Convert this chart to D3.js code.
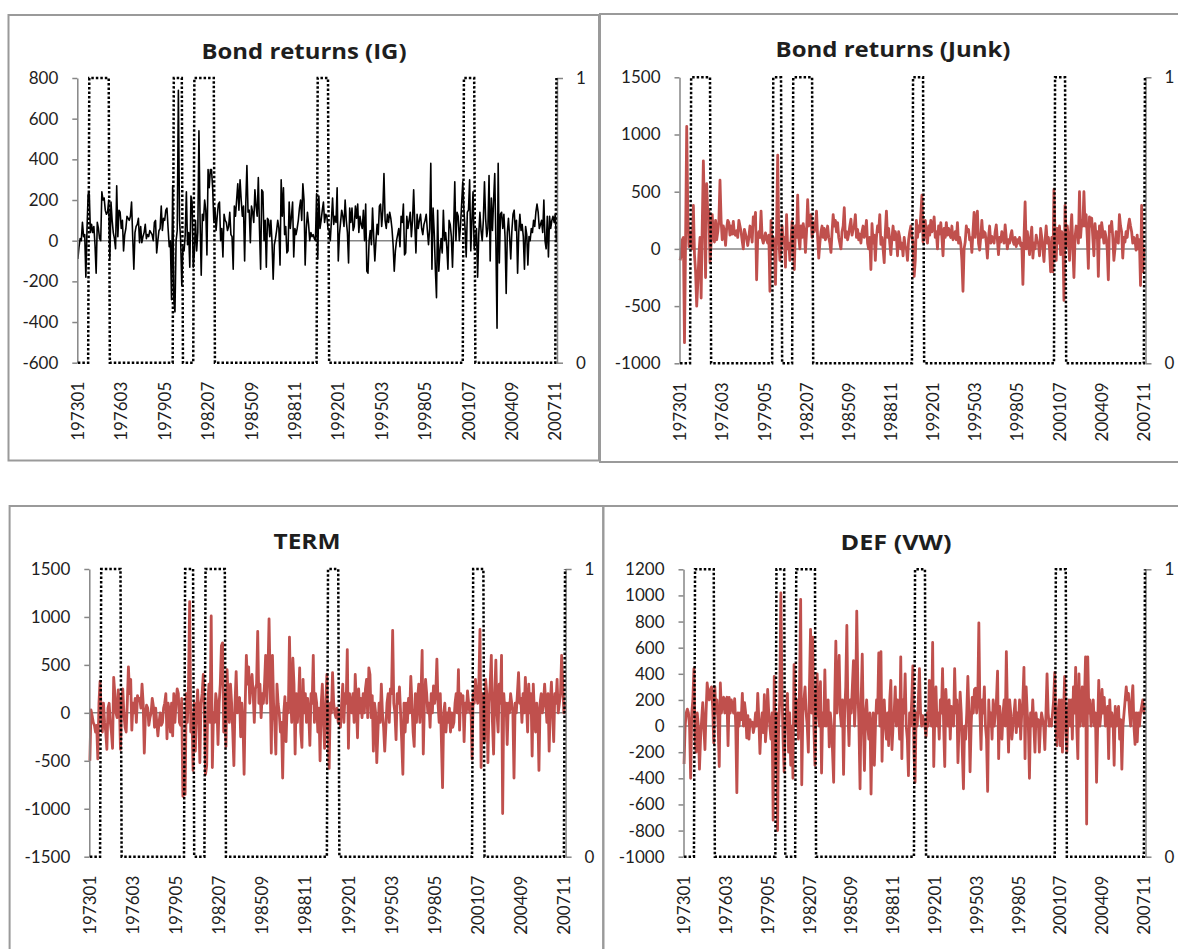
<!DOCTYPE html>
<html><head><meta charset="utf-8">
<script src="https://cdn.jsdelivr.net/npm/d3@7"></script>
<style>
body{margin:0;background:#fff}
svg{display:block}
text{font-family:Lato,"Open Sans",sans-serif;fill:#1e1e1e}
</style>
</head><body>
<svg id="chart" width="1178" height="949"></svg>
<script>
// ---- data ----
const xTickLabels = ["197301","197603","197905","198207","198509","198811","199201","199503","199805","200107","200409","200711"];
const recessionPeriods = [["197311","197504"],["198001","198008"],["198107","198212"],["199007","199104"],["200103","200112"],["200712","200712"]];

const bondIG = [
-90,-30,10,0,90,20,30,-180,60,230,230,40,80,40,70,-20,-160,90,60,10,0,240,200,210,150,130,140,200,-90,190,100,40,10,-40,270,20,150,140,
60,100,-50,30,60,120,110,100,120,190,20,-140,40,70,80,110,-10,70,-10,20,40,80,10,30,20,50,40,30,0,90,100,-60,0,50,60,170,50,110,
100,150,160,60,-30,0,-290,270,-290,-350,0,50,740,100,0,-220,-30,-50,30,240,-20,40,-130,220,190,-130,-60,100,-50,40,540,100,-170,130,100,200,150,-70,
350,260,350,350,260,100,160,50,120,180,190,0,60,-80,130,100,90,50,70,140,30,20,-140,170,120,200,280,150,300,200,120,170,-100,180,370,140,150,-10,
170,140,90,250,170,120,310,60,-140,250,240,0,100,-130,110,100,20,100,-10,-190,-20,10,50,100,60,-120,300,120,260,30,70,-60,-50,190,60,120,190,-80,
60,30,60,100,160,200,100,280,200,-120,60,140,80,0,40,20,30,10,0,230,-90,220,60,100,150,190,90,130,120,60,50,0,100,210,80,120,90,260,
-100,30,90,150,120,70,200,100,40,-110,160,90,160,50,70,170,110,180,40,120,80,60,150,0,180,-150,-160,0,50,-20,160,20,-100,0,80,30,170,180,
70,150,330,100,60,130,90,140,110,60,-20,-150,-50,0,30,60,-30,120,90,180,-70,-60,120,60,100,140,20,100,250,80,-60,130,60,100,130,60,30,80,
100,130,50,-20,60,380,-140,160,40,-140,-280,150,-150,-50,10,-60,150,0,40,-30,-140,100,80,20,-130,60,290,0,140,120,0,70,180,290,150,60,-80,140,
150,300,-50,100,240,-40,0,60,-180,30,140,50,0,100,290,110,20,60,320,-100,210,50,200,330,-10,-430,380,-110,130,140,60,130,20,-260,40,110,20,-90,
50,130,150,50,100,-160,40,130,50,80,20,-140,70,30,-120,20,0,60,40,100,70,140,180,140,60,80,100,40,200,0,-40,120,-80,120,60,100,120,90,130,0
];

const bondJunk = [
-100,-60,80,100,-820,100,1070,300,20,100,150,0,380,-50,-200,-500,-300,-50,100,-430,200,770,300,-250,570,300,330,-120,50,300,100,60,250,80,150,250,600,250,
80,200,150,30,180,250,230,120,200,130,240,130,120,160,100,250,200,150,70,0,170,130,90,30,100,200,150,60,280,230,320,-270,100,150,100,330,90,50,
100,140,80,50,120,-370,250,0,100,50,-310,150,820,100,-100,0,200,50,100,-160,300,0,50,-100,70,240,50,-180,200,100,470,100,0,200,100,220,150,-30,
150,430,200,250,300,100,230,150,200,330,100,-80,50,150,200,100,180,80,120,200,100,50,-30,150,300,200,250,150,230,100,50,0,150,200,360,100,150,80,
130,200,260,120,170,200,300,100,170,80,130,50,150,200,100,150,250,50,0,100,-180,220,50,120,-100,100,200,150,300,40,100,0,-120,150,330,100,180,50,
-50,100,200,80,150,100,-60,150,100,0,50,-60,100,20,0,-100,80,150,200,100,60,-240,-100,250,100,200,150,300,470,60,150,250,100,50,200,120,250,150,
180,280,100,150,0,200,130,230,100,-60,180,100,230,120,180,130,100,200,80,100,150,80,230,50,100,50,-100,-370,0,60,200,150,170,80,100,-30,150,320,
100,250,330,50,-10,100,250,100,150,140,50,-80,100,200,50,110,80,50,150,210,80,-50,100,60,150,100,50,210,100,0,80,50,120,160,70,40,100,20,
80,50,100,30,50,-310,100,410,0,150,50,-50,100,190,-80,50,0,120,60,50,-60,180,100,0,-110,80,200,50,100,0,-200,100,-200,520,100,-100,180,50,
200,-50,150,100,-450,380,20,200,90,-100,150,300,0,-250,100,200,150,50,500,100,250,200,500,200,300,100,-170,280,200,270,100,-60,220,100,150,-240,200,100,
230,150,50,150,100,0,-270,200,150,240,100,-100,0,150,100,50,300,200,150,-80,100,60,150,100,200,260,200,150,50,100,80,-10,120,0,80,-320,380,-200,0,-20
];

const termSpread = [
-500,30,-30,-100,-130,-200,-130,-480,100,330,0,-200,100,-100,-200,-380,50,100,-100,-200,-370,370,200,0,-50,240,100,-380,100,250,0,-150,-200,100,480,200,350,-180,
100,0,150,-100,180,130,150,50,300,100,-420,0,80,50,-130,-50,0,150,70,-150,50,-100,-240,-100,0,-130,-100,50,100,200,-270,100,20,-200,100,-240,200,-100,
100,250,200,-100,-130,150,-870,-850,-850,200,-100,300,1160,-200,0,-600,100,-400,0,240,0,-520,100,200,400,0,-640,-550,100,300,-100,1010,-570,0,-100,200,100,-330,
100,300,700,730,-200,200,-350,450,100,-100,300,100,-200,-550,100,430,0,100,160,-250,100,-100,-640,100,600,300,480,100,300,400,200,-100,250,300,850,100,300,-50,
200,100,300,600,100,400,980,300,-420,600,100,-100,-430,300,100,0,-200,-100,-680,0,170,-300,100,0,790,200,-100,570,300,-430,200,-100,100,470,-200,-360,350,0,
200,-100,150,0,-340,200,100,600,-100,200,100,-200,50,-500,100,300,-100,-370,100,400,-200,-580,100,0,420,100,0,-50,50,-100,0,-150,100,300,-100,200,100,660,
-370,200,100,0,200,-100,400,100,-260,250,0,150,-50,200,0,250,350,-50,470,400,-50,180,-400,100,0,-520,-200,100,-100,300,0,-150,-400,-150,100,200,-100,250,
200,860,100,0,-280,200,100,270,0,-300,-640,100,-200,100,-100,150,0,380,100,-200,-350,200,-100,150,300,-100,200,650,-430,100,350,200,0,100,-150,200,0,280,
100,200,560,100,-100,200,-300,-780,0,100,-200,0,-100,50,-200,0,-150,-100,100,200,0,450,-180,200,100,180,-300,100,0,230,100,0,100,-480,200,100,350,200,
100,300,870,-570,200,100,-300,350,200,-520,100,300,600,-100,-430,200,550,0,-200,300,100,600,-1050,200,0,100,-330,100,0,200,100,0,-680,100,0,200,420,100,
150,-100,200,0,370,100,-200,300,0,200,-450,300,0,-200,100,0,-600,100,200,0,100,300,100,-100,200,-400,100,320,0,-300,200,100,350,0,100,200,600,300,0,100
];

const defVW = [
-290,0,100,130,100,0,-400,100,200,440,-100,-200,100,0,-330,-100,50,180,0,-180,100,330,250,200,280,300,150,-130,300,100,200,0,-310,330,100,200,220,100,
200,220,-150,220,100,200,150,100,210,0,-510,100,0,100,50,250,0,180,100,-90,80,-100,50,0,30,-50,0,100,0,250,50,-210,0,100,-50,240,-120,0,
280,100,0,-100,100,-720,380,-300,100,-800,0,200,1020,300,-100,-350,0,100,250,-200,100,-300,0,-400,470,100,0,200,-100,300,970,-450,100,200,300,100,0,-200,
300,740,100,680,0,-300,200,400,100,0,340,-360,100,0,430,0,100,200,-160,100,0,-200,-430,200,650,100,300,540,100,0,200,-370,100,300,770,100,-150,200,
100,300,500,0,200,880,300,0,-480,200,550,0,-340,100,200,0,-100,100,-520,0,100,-300,0,200,100,560,0,570,-270,100,200,0,-100,100,-150,200,350,-180,
0,100,300,0,200,100,-100,530,-250,200,100,400,0,-100,-380,100,0,200,460,-200,-430,100,0,200,440,100,0,80,30,0,-80,100,0,350,100,0,640,-310,
100,300,0,100,-100,200,100,440,0,-310,280,100,0,200,-100,150,100,0,440,100,200,-280,0,260,100,-200,-480,0,-100,100,380,100,-350,0,220,100,280,290,
100,200,790,100,-180,200,100,300,0,-100,-500,200,0,100,-100,200,0,100,200,420,-250,150,0,-100,100,200,0,570,100,-200,200,100,-100,0,100,200,-50,100,
0,200,-100,100,200,450,-250,300,100,0,-400,100,0,200,0,-200,100,0,50,-200,0,100,50,0,-180,100,400,100,0,50,0,100,200,410,0,-150,100,200,
-150,200,-200,100,380,0,-200,100,200,0,200,-100,300,100,450,0,-250,400,0,100,300,0,200,530,-750,530,100,200,0,100,200,0,100,-430,0,350,0,100,
280,100,220,0,100,150,-250,200,0,100,50,-300,150,0,100,150,-100,50,-330,0,100,200,300,200,250,100,0,200,310,0,-140,100,-120,100,0,100,150,200,100,150
];

// ---- categories & recession indicator ----
const months = [];
for (let y = 1973; y <= 2007; y++) for (let m = 1; m <= 12; m++) months.push(String(y * 100 + m));
const recession = months.map(mo => recessionPeriods.some(([a, b]) => mo >= a && mo <= b) ? 1 : 0);

const panels = [
  {title: "Bond returns (IG)", data: bondIG, color: "#000000", lw: 1.6,
   yTicks: [-600,-400,-200,0,200,400,600,800],
   box: [8.5, 15, 599, 460.5], plot: {l: 77.3, t: 78, r: 557, b: 362.7}, tx: 304, ty: 50, tw: 205},
  {title: "Bond returns (Junk)", data: bondJunk, color: "#C0504D", lw: 2.8,
   yTicks: [-1000,-500,0,500,1000,1500],
   box: [600, 14, 1182, 462], plot: {l: 679.5, t: 77.3, r: 1145.5, b: 363.3}, tx: 893, ty: 48, tw: 235},
  {title: "TERM", data: termSpread, color: "#C0504D", lw: 2.8,
   yTicks: [-1500,-1000,-500,0,500,1000,1500],
   box: [9.6, 506, 603.3, 962], plot: {l: 89.3, t: 569, r: 565.6, b: 856.7}, tx: 307, ty: 540, tw: 67},
  {title: "DEF (VW)", data: defVW, color: "#C0504D", lw: 2.8,
   yTicks: [-1000,-800,-600,-400,-200,0,200,400,600,800,1000,1200],
   box: [603.3, 506, 1182, 962], plot: {l: 683.5, t: 569.3, r: 1145.5, b: 856.7}, tx: 896, ty: 541, tw: 111}
];

const svg = d3.select("#chart");
const axisGray = "#868686";

panels.forEach(p => {
  const g = svg.append("g");
  // panel frame
  g.append("rect")
    .attr("x", p.box[0]).attr("y", p.box[1])
    .attr("width", p.box[2] - p.box[0]).attr("height", p.box[3] - p.box[1])
    .attr("fill", "none").attr("stroke", "#9a9a9a").attr("stroke-width", 2);

  const x = d3.scaleBand().domain(months).range([p.plot.l, p.plot.r]).padding(0);
  const cx = m => x(m) + x.bandwidth() / 2;
  const y = d3.scaleLinear().domain([p.yTicks[0], p.yTicks[p.yTicks.length - 1]]).range([p.plot.b, p.plot.t]);
  const y2 = d3.scaleLinear().domain([0, 1]).range([p.plot.b, p.plot.t]);

  // title
  g.append("text").attr("x", p.tx).attr("y", p.ty)
    .attr("text-anchor", "middle").attr("dominant-baseline", "central")
    .attr("textLength", p.tw).attr("lengthAdjust", "spacingAndGlyphs")
    .style("font-family", "'Open Sans', Lato, sans-serif")
    .style("font-weight", "bold").style("font-size", "22px").text(p.title);

  // zero (category) axis line
  g.append("line").attr("x1", p.plot.l).attr("x2", p.plot.r)
    .attr("y1", y(0)).attr("y2", y(0))
    .attr("stroke", axisGray).attr("stroke-width", 1.5);

  // series line
  const line = d3.line().x((d, i) => cx(months[i])).y(d => y(d));
  g.append("path").datum(p.data)
    .attr("fill", "none").attr("stroke", p.color).attr("stroke-width", p.lw)
    .attr("stroke-linejoin", "round").attr("d", line);

  // left axis
  const ay = g.append("g").attr("transform", `translate(${p.plot.l},0)`)
    .call(d3.axisLeft(y).tickValues(p.yTicks).tickSize(5).tickSizeOuter(0).tickPadding(14).tickFormat(d => String(d)));
  ay.selectAll("path,line").attr("stroke", axisGray).attr("stroke-width", 1.5);
  ay.selectAll("text").style("font-size", "17px").attr("fill", "#1e1e1e");

  // right (secondary) axis
  const ay2 = g.append("g").attr("transform", `translate(${p.plot.r},0)`)
    .call(d3.axisRight(y2).tickValues([0, 1]).tickSize(6).tickSizeOuter(0).tickPadding(13).tickFormat(d3.format("d")));
  ay2.selectAll("path,line").attr("stroke", axisGray).attr("stroke-width", 1.5);
  ay2.selectAll("text").style("font-size", "17px").attr("fill", "#1e1e1e");

  // category labels (rotated)
  const ax = g.append("g").attr("transform", `translate(0,${p.plot.b})`)
    .call(d3.axisBottom(x).tickValues(xTickLabels).tickSize(0));
  ax.select(".domain").remove();
  ax.selectAll("text")
    .style("font-size", "17px").attr("fill", "#1e1e1e")
    .attr("text-anchor", "end")
    .attr("transform", "rotate(-90)")
    .attr("x", -19).attr("y", 0).attr("dy", "0.36em");

  // recession indicator (secondary axis), dotted, on top
  const rline = d3.line().x((d, i) => cx(months[i])).y(d => y2(d));
  g.append("path").datum(recession)
    .attr("fill", "none").attr("stroke", "#000").attr("stroke-width", 2.5)
    .attr("stroke-dasharray", "2.5,2").attr("d", rline);
});
</script>
</body></html>
